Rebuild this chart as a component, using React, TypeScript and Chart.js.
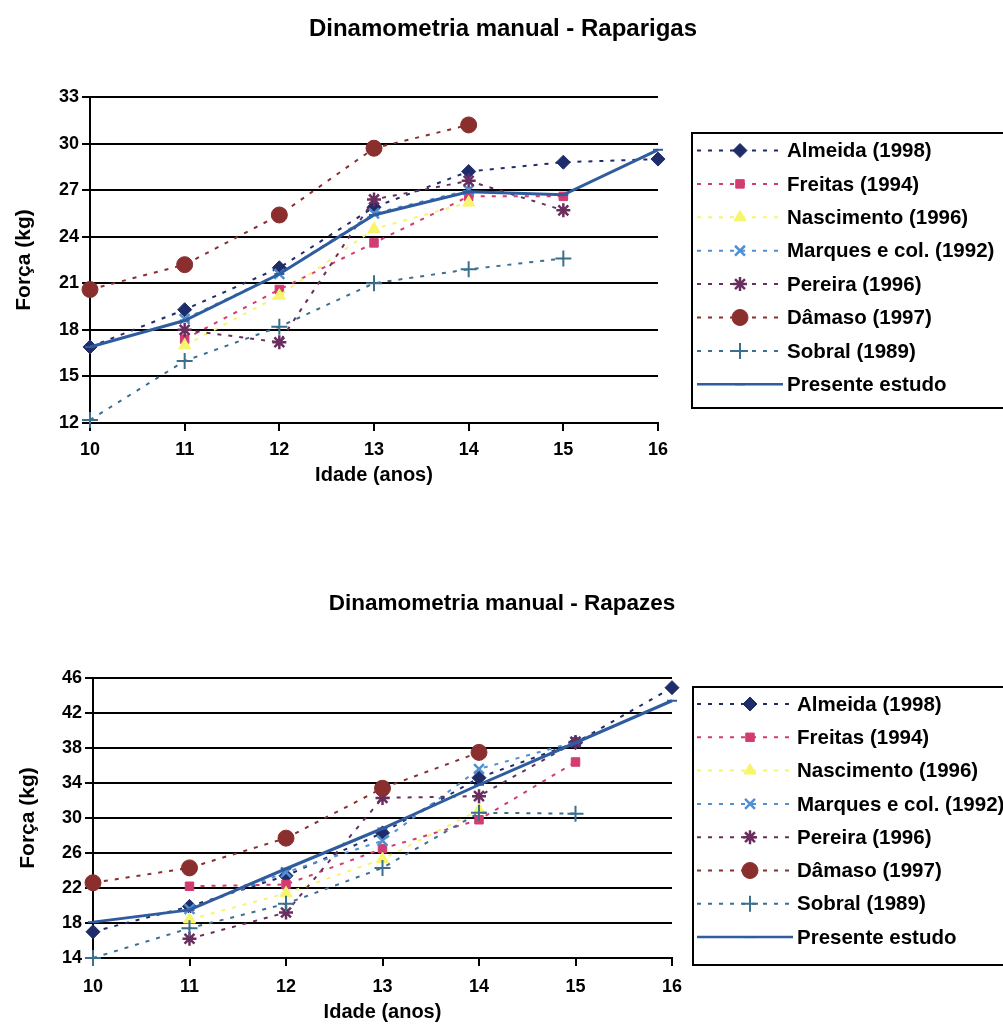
import React, { useEffect, useRef } from "react";
import { Chart, registerables } from "chart.js";
import { drawPoint } from "chart.js/helpers";

Chart.register(...registerables);

// Age axis (years)
const ages = [10, 11, 12, 13, 14, 15, 16];

const seriesNames = [
  "Almeida (1998)",
  "Freitas (1994)",
  "Nascimento (1996)",
  "Marques e col. (1992)",
  "Pereira (1996)",
  "Dâmaso (1997)",
  "Sobral (1989)",
  "Presente estudo",
];

// Hand-grip strength (kg), girls, by age 10..16
const girlsAlmeida = [16.9, 19.3, 22.0, 25.9, 28.2, 28.8, 29.0];
const girlsFreitas = [null, 17.4, 20.6, 23.6, 26.6, 26.6, null];
const girlsNascimento = [null, 17.0, 20.2, 24.5, 26.2, null, null];
const girlsMarques = [null, 18.7, 21.6, 25.5, 27.0, null, null];
const girlsPereira = [null, 18.0, 17.2, 26.4, 27.6, 25.7, null];
const girlsDamaso = [20.6, 22.2, 25.4, 29.7, 31.2, null, null];
const girlsSobral = [12.2, 16.0, 18.2, 21.0, 21.9, 22.6, null];
const girlsPresente = [16.9, 18.6, 21.6, 25.4, 26.9, 26.7, 29.6];

// Hand-grip strength (kg), boys, by age 10..16
const boysAlmeida = [17.0, 19.9, 23.4, 28.3, 34.6, 38.6, 44.9];
const boysFreitas = [null, 22.2, 22.4, 26.5, 29.8, 36.4, null];
const boysNascimento = [null, 18.4, 21.4, 25.3, 30.9, null, null];
const boysMarques = [null, 19.6, 23.8, 27.4, 35.6, 38.7, null];
const boysPereira = [null, 16.2, 19.2, 32.3, 32.5, 38.7, null];
const boysDamaso = [22.6, 24.3, 27.7, 33.4, 37.5, null, null];
const boysSobral = [14.0, 17.4, 20.2, 24.3, 30.6, 30.5, null];
const boysPresente = [18.1, 19.5, 24.2, 28.8, 33.8, 38.6, 43.4];

const girlsSeries = [
  girlsAlmeida, girlsFreitas, girlsNascimento, girlsMarques,
  girlsPereira, girlsDamaso, girlsSobral, girlsPresente,
];
const boysSeries = [
  boysAlmeida, boysFreitas, boysNascimento, boysMarques,
  boysPereira, boysDamaso, boysSobral, boysPresente,
];

const FONT = "'Liberation Sans', Arial, Helvetica, sans-serif";

const seriesStyle = [
  { color: "#1f2c6a", point: "rectRot", radius: 7, bw: 1 },
  { color: "#d23c72", point: "rect", radius: 6, bw: 1 },
  { color: "#f6f56c", point: "triangle", radius: 7, bw: 1 },
  { color: "#4f8fd2", point: "crossRot", radius: 7, bw: 2.5 },
  { color: "#6a2e5e", point: "star", radius: 7, bw: 2.5 },
  { color: "#8a2e2e", point: "circle", radius: 8, bw: 1 },
  { color: "#3c6f8e", point: "cross", radius: 8, bw: 2 },
  { color: "#2f5c9e", point: "line", radius: 5, bw: 2 },
];

function buildDatasets(series: (number | null)[][]) {
  return series.map((vals, i) => {
    const s = seriesStyle[i];
    const isPresent = i === series.length - 1;
    const pts = ages
      .map((a, k) => ({ x: a, y: vals[k] }))
      .filter((p) => p.y !== null);
    return {
      label: seriesNames[i],
      data: pts,
      borderColor: s.color,
      backgroundColor: s.color,
      borderWidth: isPresent ? 3 : 2,
      borderDash: isPresent ? [] : [4, 7],
      pointStyle: s.point,
      pointRadius: s.radius,
      pointBorderWidth: s.bw,
      pointBackgroundColor: s.color,
      pointBorderColor: s.color,
      tension: 0,
      clip: false as const,
      order: series.length - i,
    };
  });
}

// Page-centred chart heading
const pageTitle = {
  id: "pageTitle",
  afterDraw(chart: any, _args: any, opts: any) {
    const { ctx } = chart;
    ctx.save();
    ctx.fillStyle = "#000";
    ctx.font = `bold ${opts.size}px ${FONT}`;
    ctx.textAlign = "center";
    ctx.textBaseline = "middle";
    ctx.fillText(opts.text, opts.x, opts.y);
    ctx.restore();
  },
};

// Boxed legend on the right, drawn with the chart's own dataset styles
const boxLegend = {
  id: "boxLegend",
  afterDraw(chart: any, _args: any, opts: any) {
    const { ctx } = chart;
    ctx.save();
    ctx.strokeStyle = "#000";
    ctx.lineWidth = 2;
    ctx.strokeRect(opts.left, opts.top, opts.right - opts.left, opts.bottom - opts.top);
    chart.data.datasets.forEach((ds: any, i: number) => {
      const y = opts.firstY + i * opts.step;
      ctx.save();
      ctx.strokeStyle = ds.borderColor;
      ctx.lineWidth = ds.borderDash.length ? 2 : 2.5;
      ctx.setLineDash(ds.borderDash);
      ctx.beginPath();
      ctx.moveTo(opts.lineStart, y);
      ctx.lineTo(opts.lineEnd, y);
      ctx.stroke();
      ctx.setLineDash([]);
      ctx.fillStyle = ds.pointBackgroundColor;
      ctx.strokeStyle = ds.pointBorderColor;
      ctx.lineWidth = ds.pointBorderWidth;
      drawPoint(ctx, { pointStyle: ds.pointStyle, radius: ds.pointRadius, rotation: 0, borderWidth: ds.pointBorderWidth }, opts.markerX, y);
      ctx.restore();
      ctx.fillStyle = "#000";
      ctx.font = `bold ${opts.fontSize}px ${FONT}`;
      ctx.textBaseline = "middle";
      ctx.textAlign = "left";
      ctx.fillText(ds.label, opts.textX, y + 1);
    });
    ctx.restore();
  },
};

type PanelCfg = {
  title: any;
  series: (number | null)[][];
  yMin: number;
  yMax: number;
  yStep: number;
  height: number;
  areaLeft: number;
  areaTop: number;
  areaRight: number;
  areaBottom: number;
  xTickPad: number;
  xTitlePadBottom: number;
  yTitlePadTop: number;
  legend: any;
};

function Panel({ cfg }: { cfg: PanelCfg }) {
  const ref = useRef<HTMLCanvasElement | null>(null);
  useEffect(() => {
    if (!ref.current) return;
    const axisFont = { family: FONT, size: 18, weight: "bold" as const };
    const chart = new Chart(ref.current, {
      type: "line",
      data: { datasets: buildDatasets(cfg.series) as any },
      plugins: [pageTitle, boxLegend],
      options: {
        animation: false,
        responsive: false,
        devicePixelRatio: 1,
        layout: { padding: { left: 0, right: 1003 - cfg.areaRight, top: cfg.areaTop, bottom: 0 } },
        plugins: {
          legend: { display: false },
          tooltip: { enabled: false },
          title: { display: false },
          pageTitle: cfg.title,
          boxLegend: cfg.legend,
        } as any,
        scales: {
          x: {
            type: "linear",
            min: 10,
            max: 16,
            ticks: { stepSize: 1, color: "#000", font: axisFont, padding: cfg.xTickPad, maxRotation: 0 },
            grid: { drawOnChartArea: false, drawTicks: true, tickLength: 8, color: "#000", lineWidth: 2 },
            border: { display: true, color: "#000", width: 2 },
            title: {
              display: true,
              text: "Idade (anos)",
              color: "#000",
              font: { family: FONT, size: 20, weight: "bold", lineHeight: 1.2 },
              padding: { top: 0, bottom: cfg.xTitlePadBottom },
            },
            afterFit: (s: any) => {
              s.height = cfg.height - cfg.areaBottom;
            },
          },
          y: {
            min: cfg.yMin,
            max: cfg.yMax,
            ticks: { stepSize: cfg.yStep, color: "#000", font: axisFont, padding: 3 },
            grid: { color: "#000", lineWidth: 2, tickLength: 8 },
            border: { display: true, color: "#000", width: 2 },
            title: {
              display: true,
              text: "Força (kg)",
              color: "#000",
              font: { family: FONT, size: 21, weight: "bold", lineHeight: 1.2 },
              padding: { top: cfg.yTitlePadTop, bottom: 0 },
            },
            afterFit: (s: any) => {
              s.width = cfg.areaLeft;
            },
          },
        },
      } as any,
    });
    return () => chart.destroy();
  }, [cfg]);
  return (
    <canvas
      ref={ref}
      width={1003}
      height={cfg.height}
      style={{ display: "block", width: 1003, height: cfg.height }}
    />
  );
}

const girlsCfg: PanelCfg = {
  title: { text: "Dinamometria manual - Raparigas", size: 24, x: 503, y: 29 },
  series: girlsSeries,
  yMin: 12,
  yMax: 33,
  yStep: 3,
  height: 515,
  areaLeft: 90,
  areaTop: 97,
  areaRight: 658,
  areaBottom: 423,
  xTickPad: 8,
  xTitlePadBottom: 28,
  yTitlePadTop: 12,
  legend: {
    left: 692, top: 133, right: 1012, bottom: 408,
    firstY: 150.5, step: 33.4,
    lineStart: 697, lineEnd: 783, markerX: 740, textX: 787, fontSize: 20.5,
  },
};

const boysCfg: PanelCfg = {
  title: { text: "Dinamometria manual - Rapazes", size: 22.5, x: 502, y: 89 },
  series: boysSeries,
  yMin: 14,
  yMax: 46,
  yStep: 4,
  height: 512,
  areaLeft: 93,
  areaTop: 163,
  areaRight: 672,
  areaBottom: 443,
  xTickPad: 10,
  xTitlePadBottom: 3,
  yTitlePadTop: 16,
  legend: {
    left: 693, top: 172, right: 1012, bottom: 450,
    firstY: 189, step: 33.3,
    lineStart: 697, lineEnd: 793, markerX: 750, textX: 797, fontSize: 20.5,
  },
};

export default function App() {
  return (
    <div style={{ position: "absolute", left: 0, top: 0, width: 1003, height: 1027, background: "#fff" }}>
      <Panel cfg={girlsCfg} />
      <Panel cfg={boysCfg} />
    </div>
  );
}
